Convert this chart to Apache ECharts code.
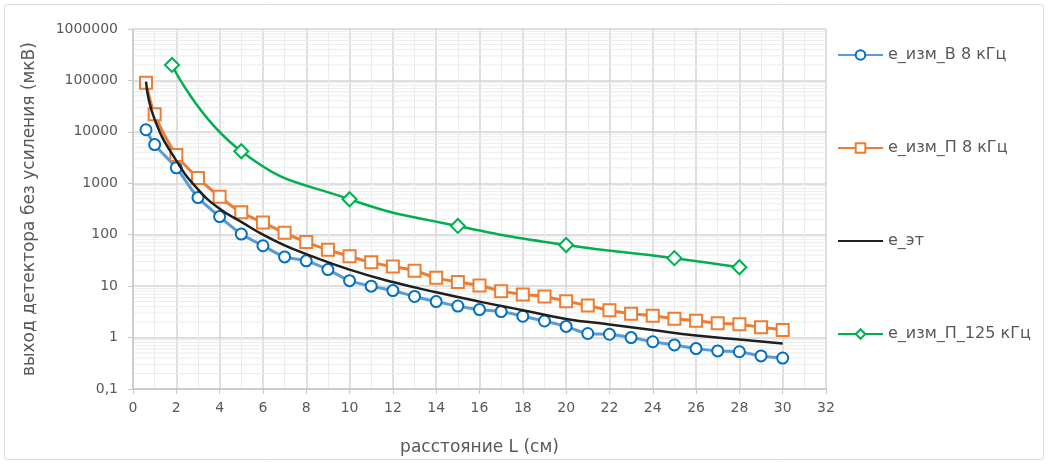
<!DOCTYPE html>
<html>
<head>
<meta charset="utf-8">
<script src="https://cdn.jsdelivr.net/npm/echarts@6/dist/echarts.min.js"></script>
<style>
  html, body { margin: 0; padding: 0; background: #ffffff; }
  #chart { width: 1049px; height: 465px; }
</style>
</head>
<body>
<div id="chart"></div>
<script>
// Distance L (cm) for the 8 kHz measurement runs
const distance8k = [0.6, 1, 2, 3, 4, 5, 6, 7, 8, 9, 10, 11, 12, 13, 14, 15, 16, 17, 18, 19, 20,
                    21, 22, 23, 24, 25, 26, 27, 28, 29, 30];
// e_изм_В 8 кГц, мкВ
const eMeasB8k = [11000, 5650, 2000, 527, 225, 103, 61, 37, 31, 21, 12.8, 10, 8.2, 6.3, 5.0, 4.1, 3.5,
                  3.2, 2.6, 2.1, 1.65, 1.2, 1.16, 1.0, 0.83, 0.72, 0.61, 0.55, 0.53, 0.44, 0.40];
// e_изм_П 8 кГц, мкВ
const eMeasP8k = [90000, 22000, 3550, 1270, 548, 272, 173, 109, 72, 51, 38, 29, 24, 20, 14.5, 12.1, 10.3,
                  8.0, 6.9, 6.3, 5.1, 4.2, 3.4, 2.9, 2.67, 2.33, 2.13, 1.89, 1.81, 1.58, 1.41];
// Reference curve e_эт
const distanceRef = [0.6, 1, 2, 3, 4, 5, 6, 7, 8, 10, 12, 14, 16, 18, 20, 22, 24, 26, 28, 30];
const eRef = [95000, 17500, 2750, 760, 320, 178, 100, 62, 42, 21, 12, 7.6, 5.0, 3.4, 2.3, 1.8, 1.4, 1.1, 0.92, 0.77];
// e_изм_П 125 кГц
const distance125k = [1.8, 5, 10, 15, 20, 25, 28];
const eMeasP125k = [200000, 4200, 490, 148, 63, 35, 23.3];

const seriesNames = ['e_изм_В 8 кГц', 'e_изм_П 8 кГц', 'e_эт', 'e_изм_П_125 кГц'];
const xAxisTitle = 'расстояние L (см)';
const yAxisTitle = 'выход детектора без усиления (мкВ)';
const yMin = 0.1, yMax = 1000000;

const pairs = (xs, ys) => xs.map((x, i) => [x, ys[i]]);

// Logarithmic minor grid values (2..9 within each decade)
const minorGridValues = [];
for (let p = -1; p < 6; p++) {
  for (let k = 2; k <= 9; k++) minorGridValues.push([0, k * Math.pow(10, p)]);
}

const FONT = 'DejaVu Sans';
const TEXT = '#595959';
const HIDDEN = 'rgba(0,0,0,0)';

const chart = echarts.init(document.getElementById('chart'), null, { renderer: 'canvas' });
chart.setOption({
  animation: false,
  backgroundColor: '#ffffff',
  textStyle: { fontFamily: FONT, color: TEXT },
  graphic: [{
    type: 'rect',
    shape: { x: 4.5, y: 4.5, width: 1039, height: 455, r: 3 },
    style: { fill: 'none', stroke: '#d9d9d9', lineWidth: 1 },
    silent: true, z: -1
  }],
  grid: { left: 133, right: 223, top: 29, bottom: 76, containLabel: false },
  legend: {
    orient: 'vertical',
    left: 832, top: 42,
    itemWidth: 45, itemHeight: 12, itemGap: 77,
    data: [
      seriesNames[0],
      seriesNames[1],
      { name: seriesNames[2], itemStyle: { color: HIDDEN, borderColor: HIDDEN, borderWidth: 0 } },
      seriesNames[3]
    ],
    textStyle: { fontFamily: FONT, fontSize: 16, color: TEXT },
    selectedMode: false
  },
  xAxis: {
    type: 'value', min: 0, max: 32, interval: 2,
    name: xAxisTitle, nameLocation: 'middle', nameGap: 50,
    nameTextStyle: { fontFamily: FONT, fontSize: 17, color: TEXT },
    axisLine: { show: true, lineStyle: { color: '#c8c8c8', width: 1.5 } },
    axisTick: { show: true, length: 5, lineStyle: { color: '#c8c8c8' } },
    axisLabel: { fontFamily: FONT, fontSize: 14, color: TEXT, margin: 12 },
    splitLine: { show: true, lineStyle: { color: '#d4d4d4', width: 1.5 } },
    minorTick: { show: false, splitNumber: 2 },
    minorSplitLine: { show: true, lineStyle: { color: '#ebebeb', width: 1 } }
  },
  yAxis: {
    type: 'log', logBase: 10, min: yMin, max: yMax,
    name: yAxisTitle, nameLocation: 'middle', nameGap: 95,
    nameTextStyle: { fontFamily: FONT, fontSize: 17, color: TEXT },
    axisLine: { show: true, lineStyle: { color: '#c8c8c8', width: 1.5 } },
    axisTick: { show: true, length: 5, lineStyle: { color: '#c8c8c8' } },
    axisLabel: {
      fontFamily: FONT, fontSize: 14, color: TEXT, margin: 15,
      formatter: v => (v < 1 ? String(+v.toPrecision(3)).replace('.', ',') : String(Math.round(v)))
    },
    splitLine: { show: true, lineStyle: { color: '#d4d4d4', width: 1.5 } }
  },
  series: [
    {
      type: 'custom', id: 'minorGridY', silent: true, z: 0,
      data: minorGridValues,
      renderItem: (params, api) => {
        const cs = params.coordSys;
        const y = api.coord([0, api.value(1)])[1];
        return {
          type: 'line',
          shape: { x1: cs.x, y1: y, x2: cs.x + cs.width, y2: y },
          style: { stroke: '#ececec', lineWidth: 1 }
        };
      }
    },
    {
      name: seriesNames[0], type: 'line', smooth: 0.3,
      data: pairs(distance8k, eMeasB8k),
      symbol: 'circle', symbolSize: 11,
      lineStyle: { color: '#5b9bd5', width: 3 },
      itemStyle: { color: '#ffffff', borderColor: '#0070c0', borderWidth: 2 },
      z: 3
    },
    {
      name: seriesNames[1], type: 'line', smooth: 0.3,
      data: pairs(distance8k, eMeasP8k),
      symbol: 'rect', symbolSize: 12,
      lineStyle: { color: '#ed7d31', width: 3 },
      itemStyle: { color: '#ffffff', borderColor: '#ed7d31', borderWidth: 2 },
      z: 4
    },
    {
      name: seriesNames[2], type: 'line', smooth: 0.5,
      data: pairs(distanceRef, eRef),
      symbol: 'none', showSymbol: false,
      lineStyle: { color: '#1f1f1f', width: 2.5 },
      itemStyle: { color: '#1f1f1f' },
      z: 5
    },
    {
      name: seriesNames[3], type: 'line', smooth: 0.5,
      data: pairs(distance125k, eMeasP125k),
      symbol: 'diamond', symbolSize: 14,
      lineStyle: { color: '#00b050', width: 2.5 },
      itemStyle: { color: '#ffffff', borderColor: '#00b050', borderWidth: 2 },
      z: 6
    }
  ]
});
</script>
</body>
</html>
